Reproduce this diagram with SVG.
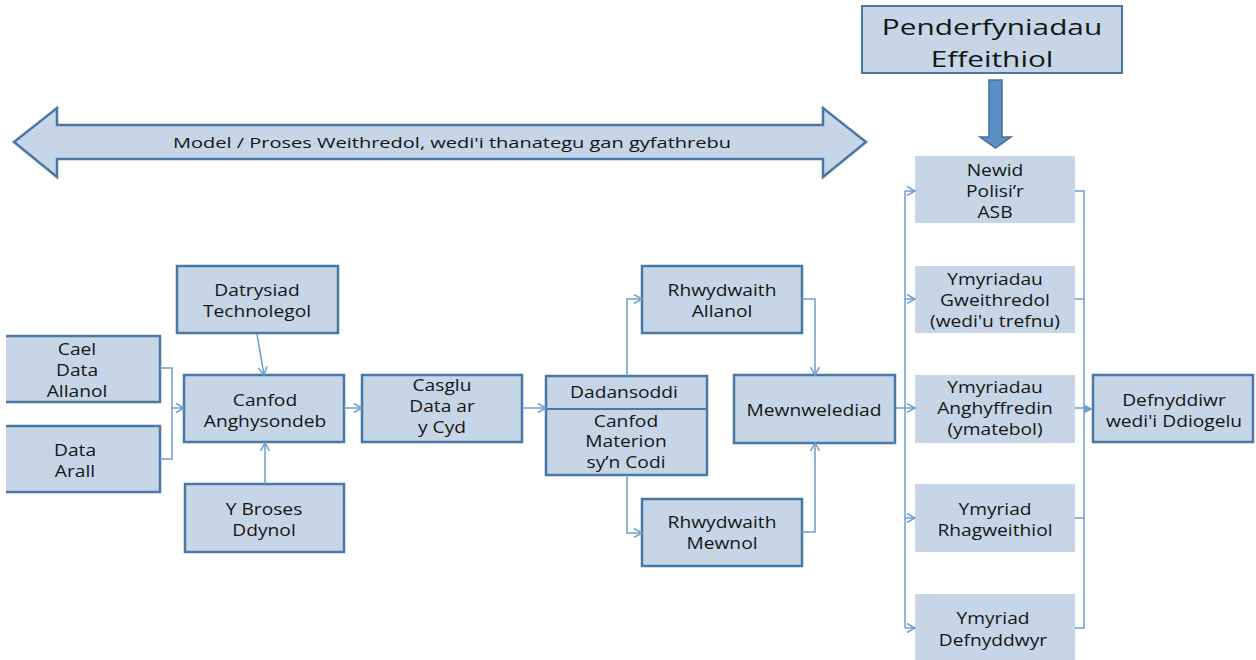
<svg xmlns="http://www.w3.org/2000/svg" width="1256" height="660" viewBox="0 0 1256 660">
<defs>
<style>
.box{fill:#c6d6e7;stroke:#4a78a6;stroke-width:2.5}
.pbox{fill:#c6d6e7;stroke:none}
.t{font-family:"Open Sans","Liberation Sans",sans-serif;font-size:17px;fill:#151515;text-anchor:middle}
.big{font-family:"Open Sans","Liberation Sans",sans-serif;font-size:21px;fill:#151515;text-anchor:middle}
.c{fill:none;stroke:#6a9fcf;stroke-width:1.5}
</style>
<marker id="ah" markerWidth="10" markerHeight="10" refX="9" refY="5" orient="auto" markerUnits="userSpaceOnUse">
<path d="M1,0.5 L9,5 L1,9.5" fill="none" stroke="#6a9fcf" stroke-width="1.5"/>
</marker>
<marker id="af" markerWidth="10" markerHeight="10" refX="9" refY="5" orient="auto" markerUnits="userSpaceOnUse">
<path d="M0,0.5 L9,5 L0,9.5 Z" fill="#6a9fcf"/>
</marker>
</defs>

<g id="double-arrow">
<polygon points="14,142 57,108 57,125 823,125 823,108 866,142 823,177 823,159 57,159 57,177" class="box"/>
<text x="173" y="148" font-family="'Open Sans','Liberation Sans',sans-serif" font-size="15" fill="#151515" textLength="558" lengthAdjust="spacingAndGlyphs">Model / Proses Weithredol, wedi'i thanategu gan gyfathrebu</text>
</g>

<g id="penderfyniadau">
<rect x="862" y="6" width="260" height="67" fill="#c6d6e7" stroke="#4a78a6" stroke-width="2"/>
<text class="big" transform="translate(992 0) scale(1.42 1)"><tspan x="0" y="35">Penderfyniadau</tspan><tspan x="0" y="67">Effeithiol</tspan></text>
</g>

<g id="thick-arrow">
<polygon points="989,80 1002,80 1002,137 1011,137 995.5,148 980,137 989,137" fill="#5b8ec4" stroke="#41719c" stroke-width="1.5"/>
</g>

<g id="cael">
<rect x="6" y="336" width="154" height="66" fill="#c6d6e7"/>
<path d="M6,336 H160 V402 H6" fill="none" stroke="#4a78a6" stroke-width="2.5"/>
<text class="t" transform="translate(77 0) scale(1.13 1)"><tspan x="0" y="355">Cael</tspan><tspan x="0" y="376">Data</tspan><tspan x="0" y="397">Allanol</tspan></text>
</g>

<g id="data-arall">
<rect x="6" y="426" width="154" height="66" fill="#c6d6e7"/>
<path d="M6,426 H160 V492 H6" fill="none" stroke="#4a78a6" stroke-width="2.5"/>
<text class="t" transform="translate(75 0) scale(1.13 1)"><tspan x="0" y="456">Data</tspan><tspan x="0" y="477">Arall</tspan></text>
</g>

<g id="datrysiad">
<rect x="177" y="266" width="161" height="67" class="box"/>
<text class="t" transform="translate(257 0) scale(1.13 1)"><tspan x="0" y="296">Datrysiad</tspan><tspan x="0" y="317">Technolegol</tspan></text>
</g>

<g id="canfod">
<rect x="184" y="375" width="160" height="67" class="box"/>
<text class="t" transform="translate(265 0) scale(1.13 1)"><tspan x="0" y="406">Canfod</tspan><tspan x="0" y="427">Anghysondeb</tspan></text>
</g>

<g id="y-broses">
<rect x="185" y="484" width="159" height="68" class="box"/>
<text class="t" transform="translate(264 0) scale(1.13 1)"><tspan x="0" y="515">Y Broses</tspan><tspan x="0" y="536">Ddynol</tspan></text>
</g>

<g id="casglu">
<rect x="362" y="375" width="160" height="67" class="box"/>
<text class="t" transform="translate(442 0) scale(1.13 1)"><tspan x="0" y="391">Casglu</tspan><tspan x="0" y="412">Data ar</tspan><tspan x="0" y="433">y Cyd</tspan></text>
</g>

<g id="dadansoddi">
<rect x="546" y="376" width="161" height="99" class="box"/>
<line x1="546" y1="409" x2="707" y2="409" stroke="#4a78a6" stroke-width="2"/>
<text class="t" transform="translate(624 0) scale(1.13 1)"><tspan x="0" y="398">Dadansoddi</tspan></text>
<text class="t" transform="translate(626 0) scale(1.13 1)"><tspan x="0" y="427">Canfod</tspan><tspan x="0" y="447">Materion</tspan><tspan x="0" y="468">sy’n Codi</tspan></text>
</g>

<g id="rhwydwaith-allanol">
<rect x="642" y="266" width="160" height="67" class="box"/>
<text class="t" transform="translate(722 0) scale(1.13 1)"><tspan x="0" y="296">Rhwydwaith</tspan><tspan x="0" y="317">Allanol</tspan></text>
</g>

<g id="rhwydwaith-mewnol">
<rect x="642" y="499" width="160" height="67" class="box"/>
<text class="t" transform="translate(722 0) scale(1.13 1)"><tspan x="0" y="528">Rhwydwaith</tspan><tspan x="0" y="549">Mewnol</tspan></text>
</g>

<g id="mewnwelediad">
<rect x="734" y="375" width="161" height="68" class="box"/>
<text class="t" transform="translate(814 0) scale(1.13 1)"><tspan x="0" y="416">Mewnwelediad</tspan></text>
</g>

<g id="newid">
<rect x="915" y="156" width="160" height="67" class="pbox"/>
<text class="t" transform="translate(995 0) scale(1.13 1)"><tspan x="0" y="176">Newid</tspan><tspan x="0" y="197">Polisi’r</tspan><tspan x="0" y="218">ASB</tspan></text>
</g>

<g id="ymyriadau-gweithredol">
<rect x="915" y="266" width="160" height="67" class="pbox"/>
<text class="t" transform="translate(995 0) scale(1.13 1)"><tspan x="0" y="285">Ymyriadau</tspan><tspan x="0" y="306">Gweithredol</tspan><tspan x="0" y="327">(wedi'u trefnu)</tspan></text>
</g>

<g id="ymyriadau-anghyffredin">
<rect x="915" y="375" width="160" height="68" class="pbox"/>
<text class="t" transform="translate(995 0) scale(1.13 1)"><tspan x="0" y="393">Ymyriadau</tspan><tspan x="0" y="414">Anghyffredin</tspan><tspan x="0" y="435">(ymatebol)</tspan></text>
</g>

<g id="ymyriad-rhagweithiol">
<rect x="915" y="484" width="160" height="68" class="pbox"/>
<text class="t" transform="translate(995 0) scale(1.13 1)"><tspan x="0" y="515">Ymyriad</tspan><tspan x="0" y="536">Rhagweithiol</tspan></text>
</g>

<g id="ymyriad-defnyddwyr">
<rect x="915" y="594" width="160" height="66" class="pbox"/>
<text class="t" transform="translate(993 0) scale(1.13 1)"><tspan x="0" y="624">Ymyriad</tspan><tspan x="0" y="646">Defnyddwyr</tspan></text>
</g>

<g id="defnyddiwr">
<rect x="1093" y="375" width="160" height="67" class="box"/>
<text class="t" transform="translate(1174 0) scale(1.13 1)"><tspan x="0" y="406">Defnyddiwr</tspan><tspan x="0" y="427">wedi'i Ddiogelu</tspan></text>
</g>

<g id="connectors">
<path class="c" d="M160,368 H172 V459 H160"/>
<path class="c" d="M172,408 H184" marker-end="url(#ah)"/>
<path class="c" d="M257,334 L264,375" marker-end="url(#ah)"/>
<path class="c" d="M265,484 V443" marker-end="url(#ah)"/>
<path class="c" d="M344,408 H362" marker-end="url(#ah)"/>
<path class="c" d="M522,408 H546" marker-end="url(#ah)"/>
<path class="c" d="M627,376 V299 H642" marker-end="url(#ah)"/>
<path class="c" d="M627,475 V533 H642" marker-end="url(#ah)"/>
<path class="c" d="M802,299 H815 V375" marker-end="url(#ah)"/>
<path class="c" d="M802,532 H815 V443" marker-end="url(#ah)"/>
<path class="c" d="M895,408 H905"/>
<path class="c" d="M905,191 V628"/>
<path class="c" d="M905,191 H915" marker-end="url(#ah)"/>
<path class="c" d="M905,299 H915" marker-end="url(#ah)"/>
<path class="c" d="M905,408 H915" marker-end="url(#ah)"/>
<path class="c" d="M905,518 H915" marker-end="url(#ah)"/>
<path class="c" d="M905,628 H915" marker-end="url(#ah)"/>
<path class="c" d="M1075,191 H1084 V628 H1075"/>
<path class="c" d="M1075,299 H1084"/>
<path class="c" d="M1075,408 H1084"/>
<path class="c" d="M1075,518 H1084"/>
<path class="c" d="M1084,409 H1093" marker-end="url(#af)"/>
</g>
</svg>
